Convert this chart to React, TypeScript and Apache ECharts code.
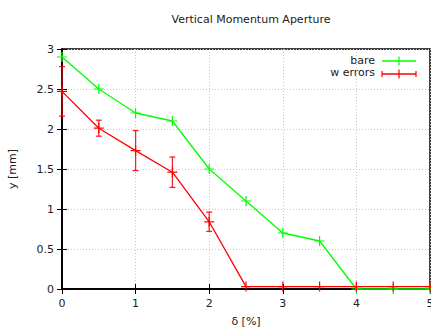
import React, { useEffect, useRef } from "react";
import * as echarts from "echarts";

// momentum offset δ [%]
const deltas = [0, 0.5, 1, 1.5, 2, 2.5, 3, 3.5, 4, 4.5, 5];
// aperture of the bare lattice [mm]
const bare = [2.9, 2.5, 2.2, 2.1, 1.5, 1.1, 0.7, 0.6, 0, 0, 0];
// mean aperture with errors [mm]
const withErrors = [2.47, 2.01, 1.73, 1.46, 0.84, 0.03, 0.03, 0.03, 0.03, 0.03, 0.03];
// error bar limits [mm]
const errLow = [2.16, 1.91, 1.48, 1.27, 0.72, 0.03, 0.03, 0.03, 0.03, 0.03, 0.03];
const errHigh = [2.78, 2.11, 1.98, 1.65, 0.96, 0.03, 0.03, 0.03, 0.03, 0.03, 0.03];

const GREEN = "#00ff00";
const RED = "#ff0000";
const FONT = "DejaVu Sans";
const PLUS = "path://M4.4,0H5.6V4.4H10V5.6H5.6V10H4.4V5.6H0V4.4H4.4Z";

export default function App() {
  const ref = useRef<HTMLDivElement>(null);

  useEffect(() => {
    if (!ref.current) return;
    const chart = echarts.init(ref.current, undefined, { renderer: "svg" });

    const errData = deltas.map((d, i) => [d, errLow[i], errHigh[i]]);

    chart.setOption({
      animation: false,
      backgroundColor: "#ffffff",
      title: {
        text: "Vertical Momentum Aperture",
        left: 246,
        top: 9,
        textAlign: "center",
        textStyle: { fontFamily: FONT, fontSize: 11, fontWeight: "normal", color: "#222" },
      },
      grid: {
        left: 62,
        right: 1,
        top: 49,
        bottom: 40,
        outerBoundsMode: "none",
        containLabel: false,
        show: true,
        borderColor: "#000",
        borderWidth: 1.5,
      },
      xAxis: [
        {
          type: "value",
          min: 0,
          max: 5,
          interval: 1,
          name: "δ [%]",
          nameLocation: "middle",
          nameGap: 27,
          nameTextStyle: { fontFamily: FONT, fontSize: 11, color: "#222" },
          axisLine: { show: true, onZero: false, lineStyle: { color: "#000", width: 1.5 } },
          axisTick: { show: true, inside: true, length: 5, lineStyle: { color: "#000" } },
          axisLabel: { fontFamily: FONT, fontSize: 11, color: "#222", margin: 9 },
          splitLine: { show: true, lineStyle: { color: "#c8c8c8", type: [1, 2], width: 1 } },
        },
        {
          type: "value",
          position: "top",
          min: 0,
          max: 5,
          interval: 1,
          axisLine: { show: true, lineStyle: { color: "#000", width: 1.5 } },
          axisTick: { show: true, inside: true, length: 5, lineStyle: { color: "#000" } },
          axisLabel: { show: false },
          splitLine: { show: false },
        },
      ],
      yAxis: [
        {
          type: "value",
          min: 0,
          max: 3,
          interval: 0.5,
          name: "y [mm]",
          nameLocation: "middle",
          nameGap: 44,
          nameTextStyle: { fontFamily: FONT, fontSize: 11, color: "#222" },
          axisLine: { show: true, onZero: false, lineStyle: { color: "#000", width: 1.5 } },
          axisTick: { show: true, inside: true, length: 5, lineStyle: { color: "#000" } },
          axisLabel: { fontFamily: FONT, fontSize: 11, color: "#222", margin: 8 },
          splitLine: { show: true, lineStyle: { color: "#c8c8c8", type: [1, 2], width: 1 } },
        },
        {
          type: "value",
          position: "right",
          min: 0,
          max: 3,
          interval: 0.5,
          axisLine: { show: true, lineStyle: { color: "#000", width: 1.5 } },
          axisTick: { show: true, inside: true, length: 5, lineStyle: { color: "#000" } },
          axisLabel: { show: false },
          splitLine: { show: false },
        },
      ],
      series: [
        {
          name: "bare",
          type: "line",
          data: deltas.map((d, i) => [d, bare[i]]),
          symbol: PLUS,
          symbolSize: 10,
          showAllSymbol: true,
          lineStyle: { color: GREEN, width: 1.3 },
          itemStyle: { color: GREEN },
          clip: false,
          z: 3,
        },
        {
          name: "w errors",
          type: "line",
          data: deltas.map((d, i) => [d, withErrors[i]]),
          symbol: PLUS,
          symbolSize: 10,
          showAllSymbol: true,
          lineStyle: { color: RED, width: 1.3 },
          itemStyle: { color: RED },
          clip: false,
          z: 4,
        },
        {
          name: "w errors bars",
          type: "custom",
          data: errData,
          encode: { x: 0, y: [1, 2] },
          clip: false,
          z: 4,
          renderItem: (_params: any, api: any) => {
            const x = api.value(0);
            const lo = api.coord([x, api.value(1)]);
            const hi = api.coord([x, api.value(2)]);
            if (Math.abs(hi[1] - lo[1]) < 1) return null;
            const cap = 3;
            const style = { stroke: RED, lineWidth: 1.3, opacity: 0.85 };
            return {
              type: "group",
              children: [
                { type: "line", shape: { x1: lo[0], y1: lo[1], x2: hi[0], y2: hi[1] }, style },
                { type: "line", shape: { x1: lo[0] - cap, y1: lo[1], x2: lo[0] + cap, y2: lo[1] }, style },
                { type: "line", shape: { x1: hi[0] - cap, y1: hi[1], x2: hi[0] + cap, y2: hi[1] }, style },
              ],
            };
          },
        },
      ],
      graphic: [
        {
          type: "text",
          right: 431 - 375,
          top: 55,
          style: { text: "bare", fontFamily: FONT, fontSize: 11, fill: "#222" },
        },
        { type: "line", shape: { x1: 382, y1: 61, x2: 416, y2: 61 }, style: { stroke: GREEN, lineWidth: 1.3 } },
        { type: "line", shape: { x1: 399, y1: 56.5, x2: 399, y2: 65.5 }, style: { stroke: GREEN, lineWidth: 1.2 } },
        {
          type: "text",
          right: 431 - 375,
          top: 67,
          style: { text: "w errors", fontFamily: FONT, fontSize: 11, fill: "#222" },
        },
        { type: "line", shape: { x1: 382, y1: 74, x2: 416, y2: 74 }, style: { stroke: RED, lineWidth: 1.3 } },
        { type: "line", shape: { x1: 382, y1: 71, x2: 382, y2: 77 }, style: { stroke: RED, lineWidth: 1.2 } },
        { type: "line", shape: { x1: 416, y1: 71, x2: 416, y2: 77 }, style: { stroke: RED, lineWidth: 1.2 } },
        { type: "line", shape: { x1: 399, y1: 69.5, x2: 399, y2: 78.5 }, style: { stroke: RED, lineWidth: 1.2 } },
      ],
    });

    return () => chart.dispose();
  }, []);

  return (
    <div
      ref={ref}
      style={{ position: "fixed", left: 0, top: 0, width: 431, height: 329 }}
    />
  );
}
